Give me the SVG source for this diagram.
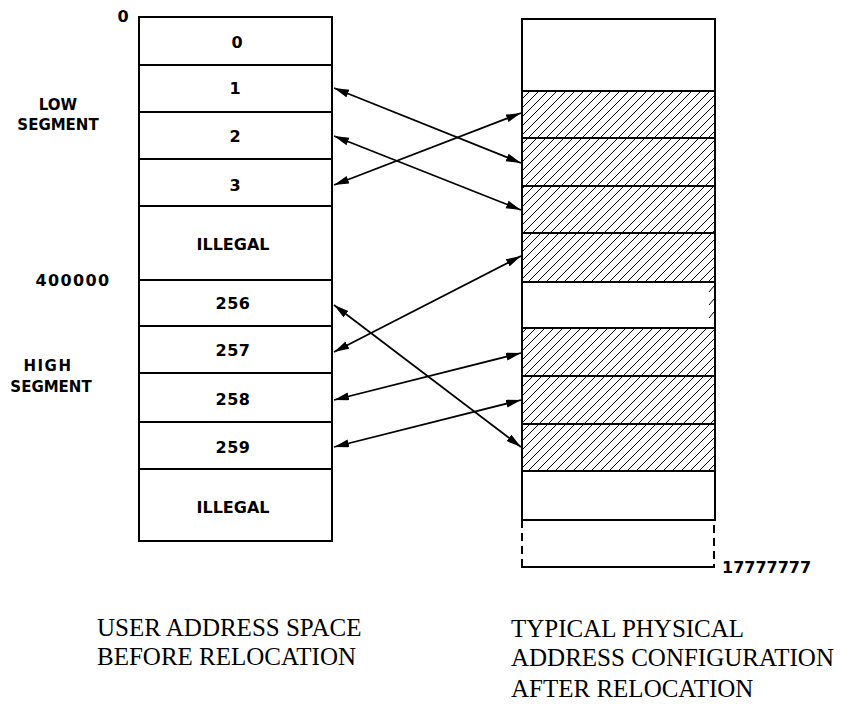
<svg xmlns="http://www.w3.org/2000/svg" width="846" height="705" viewBox="0 0 846 705">
<style>
.box{fill:#fff;stroke:#000;stroke-width:2}
.hb{fill:url(#hatch);stroke:#000;stroke-width:2}
.lbl{font-family:"DejaVu Sans",sans-serif;font-weight:bold;font-size:16px;fill:#000;text-anchor:middle}
.cap{font-family:"Liberation Serif",serif;font-size:25px;fill:#000}
.arr{stroke:#000;stroke-width:1.8;fill:none;marker-start:url(#ah);marker-end:url(#ah)}
</style>
<defs>
<pattern id="hatch" patternUnits="userSpaceOnUse" width="9" height="9">
<rect width="9" height="9" fill="#fff"/>
<path d="M-2,2 L2,-2 M0,9 L9,0 M7,11 L11,7" stroke="#000" stroke-width="1"/>
</pattern>
<marker id="ah" markerUnits="userSpaceOnUse" markerWidth="16" markerHeight="10" refX="15" refY="4" orient="auto-start-reverse">
<path d="M0,0 L15,4 L0,8 z" fill="#000"/>
</marker>
</defs>
<rect width="846" height="705" fill="#fff"/>

<g id="user-space">
<g id="u0"><rect class="box" x="139" y="17" width="193" height="48"/><text class="lbl" x="237" y="48">0</text></g>
<g id="u1"><rect class="box" x="139" y="65" width="193" height="47"/><text class="lbl" x="235" y="94">1</text></g>
<g id="u2"><rect class="box" x="139" y="112" width="193" height="47"/><text class="lbl" x="235" y="142">2</text></g>
<g id="u3"><rect class="box" x="139" y="159" width="193" height="47"/><text class="lbl" x="235" y="191">3</text></g>
<g id="uill1"><rect class="box" x="139" y="206" width="193" height="74"/><text class="lbl" x="233" y="250">ILLEGAL</text></g>
<g id="u256"><rect class="box" x="139" y="280" width="193" height="46"/><text class="lbl" x="233" y="309" letter-spacing="0.5">256</text></g>
<g id="u257"><rect class="box" x="139" y="326" width="193" height="47"/><text class="lbl" x="233" y="356" letter-spacing="0.5">257</text></g>
<g id="u258"><rect class="box" x="139" y="373" width="193" height="49"/><text class="lbl" x="233" y="405" letter-spacing="0.5">258</text></g>
<g id="u259"><rect class="box" x="139" y="422" width="193" height="47"/><text class="lbl" x="233" y="453" letter-spacing="0.5">259</text></g>
<g id="uill2"><rect class="box" x="139" y="469" width="193" height="72"/><text class="lbl" x="233" y="513">ILLEGAL</text></g>
</g>

<g id="side-labels">
<text class="lbl" x="123" y="22">0</text>
<text class="lbl" x="58" y="110" style="font-size:15px">LOW</text>
<text class="lbl" x="58" y="130" style="font-size:15px">SEGMENT</text>
<text class="lbl" x="73" y="286" letter-spacing="1.4">400000</text>
<text class="lbl" x="48" y="371" style="font-size:15px" letter-spacing="1.5">HIGH</text>
<text class="lbl" x="51" y="392" style="font-size:15px">SEGMENT</text>
<text class="lbl" x="722" y="573" style="text-anchor:start">17777777</text>
</g>

<g id="physical">
<g id="p0"><rect class="box" x="522" y="19" width="193" height="72"/></g>
<g id="p1"><rect class="hb" x="522" y="91" width="193" height="47"/></g>
<g id="p2"><rect class="hb" x="522" y="138" width="193" height="48"/></g>
<g id="p3"><rect class="hb" x="522" y="186" width="193" height="47"/></g>
<g id="p4"><rect class="hb" x="522" y="233" width="193" height="49"/></g>
<g id="p5"><rect class="box" x="522" y="282" width="193" height="46"/>
<path d="M709,292 L714,286 M709,305 L714,299 M709,318 L714,312" stroke="#000" stroke-width="1"/></g>
<g id="p6"><rect class="hb" x="522" y="328" width="193" height="48"/></g>
<g id="p7"><rect class="hb" x="522" y="376" width="193" height="48"/></g>
<g id="p8"><rect class="hb" x="522" y="424" width="193" height="47"/></g>
<g id="p9"><rect class="box" x="522" y="471" width="193" height="49"/></g>
<g id="p10"><path d="M522,520 L522,567 L714,567 L714,520" fill="none" stroke="#000" stroke-width="2" stroke-dasharray="8,5"/>
<line x1="521" y1="567" x2="715" y2="567" stroke="#000" stroke-width="2"/></g>
</g>

<g id="connectors">
<line class="arr" x1="334" y1="88" x2="521" y2="163"/>
<line class="arr" x1="334" y1="136" x2="521" y2="210"/>
<line class="arr" x1="334" y1="185" x2="521" y2="113"/>
<line class="arr" x1="334" y1="352" x2="521" y2="256"/>
<line class="arr" x1="334" y1="305" x2="521" y2="447"/>
<line class="arr" x1="334" y1="400" x2="521" y2="353"/>
<line class="arr" x1="334" y1="447" x2="521" y2="400"/>
</g>

<g id="captions">
<text class="cap" x="97" y="636">USER ADDRESS SPACE</text>
<text class="cap" x="97" y="665">BEFORE RELOCATION</text>
<text class="cap" x="511" y="637">TYPICAL PHYSICAL</text>
<text class="cap" x="511" y="666">ADDRESS CONFIGURATION</text>
<text class="cap" x="511" y="697">AFTER RELOCATION</text>
</g>
</svg>
